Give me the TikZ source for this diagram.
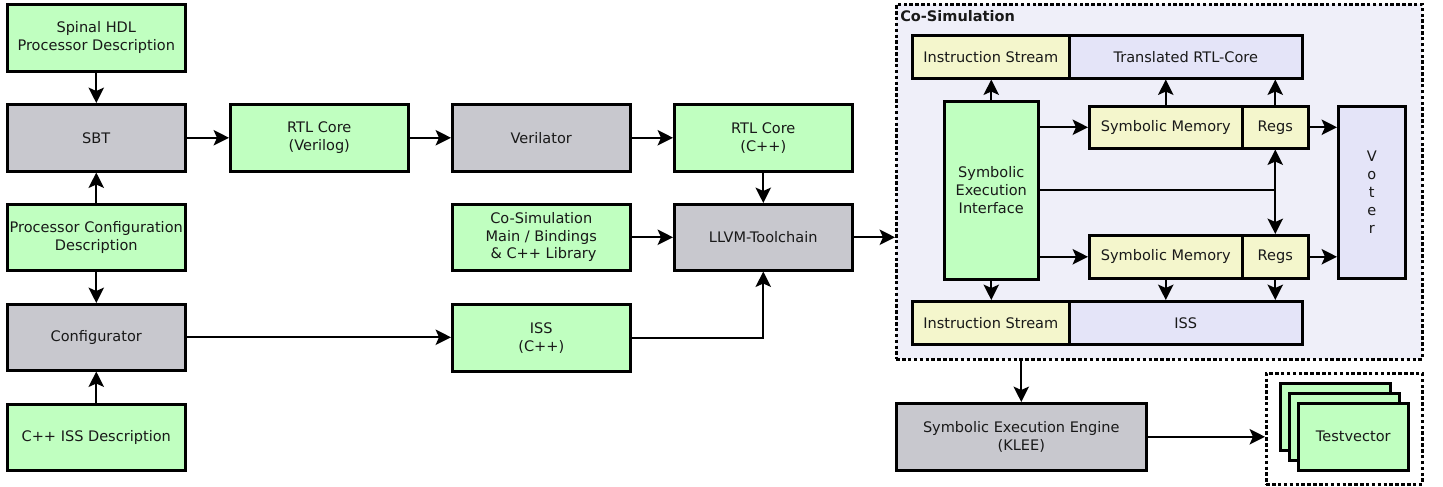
\documentclass[tikz,border=0pt]{standalone}
\usepackage{fontspec}
\setmainfont{DejaVu Sans}
\usetikzlibrary{arrows.meta,calc}

\definecolor{boxgreen}{RGB}{192,255,192}
\definecolor{boxgray}{RGB}{200,200,206}
\definecolor{boxyellow}{RGB}{244,246,204}
\definecolor{boxlav}{RGB}{228,228,248}
\definecolor{cosimbg}{RGB}{239,239,249}
\definecolor{ink}{RGB}{25,25,25}

\begin{document}
\begin{tikzpicture}[x=0.75pt,y=-0.75pt,
  every node/.style={font=\fontsize{10.9pt}{13.2pt}\selectfont, text=ink},
  rect/.style n args={4}{anchor=north west, at={(#1,#2)},
    minimum width={(#3-#1)*0.75pt}, minimum height={(#4-#2)*0.75pt},
    inner sep=0pt, align=center, draw=black, line width=1.9pt},
  green/.style={fill=boxgreen},
  gray/.style={fill=boxgray},
  yellow/.style={fill=boxyellow},
  lav/.style={fill=boxlav},
  frame/.style={dash pattern=on 2.6pt off 1.8pt},
  arr/.style={draw=black, line width=1.8pt, -{Stealth[length=11.5pt,width=11.5pt,inset=2.5pt]}},
  line/.style={draw=black, line width=1.8pt}]

\useasboundingbox (0,0) rectangle (1443,486);

% left column
\node[rect={6}{3}{184}{70}, green] (hdl) {Spinal HDL\\Processor Description};
\node[rect={6}{103}{184}{170}, gray] (sbt) {SBT};
\node[rect={6}{203}{184}{269}, green] (pcd) {Processor Configuration\\Description};
\node[rect={6}{303}{184}{369}, gray] (cfg) {Configurator};
\node[rect={6}{403}{184}{469}, green] (cppiss) {C++ ISS Description};

% tool flow
\node[rect={229}{103}{407}{170}, green] (rtlv) {RTL Core\\(Verilog)};
\node[rect={451}{103}{629}{170}, gray] (ver) {Verilator};
\node[rect={673}{103}{851}{170}, green] (rtlc) {RTL Core\\(C++)};
\node[rect={451}{203}{629}{269}, green] (csm) {Co-Simulation\\Main / Bindings\\\ \& C++ Library};
\node[rect={673}{203}{851}{269}, gray] (llvm) {LLVM-Toolchain};
\node[rect={451}{303}{629}{370}, green] (iss) {ISS\\(C++)};

% co-simulation container
\node[rect={895}{3}{1421}{358}, frame, fill=cosimbg] (cosim) {};
\node[anchor=west, inner sep=0pt, font=\fontsize{10.9pt}{13.2pt}\selectfont\bfseries] (cosimlabel) at (900,16) {Co-Simulation};

\node[rect={911}{34}{1068}{77}, yellow] (ist) {Instruction Stream};
\node[rect={1068}{34}{1301}{77}, lav] (trtl) {Translated RTL-Core};
\node[rect={943}{100}{1037}{278}, green, font=\fontsize{10.9pt}{13.5pt}\selectfont] (sei) {Symbolic\\Execution\\Interface};
\node[rect={1088}{105}{1241}{147}, yellow] (smt) {Symbolic Memory};
\node[rect={1241}{105}{1307}{147}, yellow] (rgt) {Regs};
\node[rect={1337}{105}{1404}{277}, lav, font=\fontsize{10.9pt}{13.5pt}\selectfont] (voter) {V\\o\\t\\e\\r};
\node[rect={1088}{234}{1241}{277}, yellow] (smb) {Symbolic Memory};
\node[rect={1241}{234}{1307}{277}, yellow] (rgb) {Regs};
\node[rect={911}{300}{1068}{343}, yellow] (isb) {Instruction Stream};
\node[rect={1068}{300}{1301}{343}, lav] (issb) {ISS};

% symbolic execution and test vectors
\node[rect={895}{402}{1145}{469}, gray] (klee) {Symbolic Execution Engine\\(KLEE)};
\node[rect={1265}{372}{1421}{483}, frame] (tvframe) {};
\node[rect={1279}{382}{1389}{449}, green] (tv1) {};
\node[rect={1288}{392}{1398}{459}, green] (tv2) {};
\node[rect={1297}{402}{1407}{469}, green] (tv3) {Testvector};

% connectors: left column and tool flow
\draw[arr] (hdl) -- (sbt);
\draw[arr] (pcd) -- (sbt);
\draw[arr] (pcd) -- (cfg);
\draw[arr] (cppiss) -- (cfg);
\draw[arr] (sbt) -- (rtlv);
\draw[arr] (rtlv) -- (ver);
\draw[arr] (ver) -- (rtlc);
\draw[arr] (rtlc) -- (llvm);
\draw[arr] (csm) -- (llvm);
\draw[arr] (cfg.east) -- (cfg.east -| iss.west);
\draw[arr] (iss.east) -| (llvm.south);
\draw[arr] (llvm.east) -- (llvm.east -| cosim.west);
\draw[arr] (cosim.south -| klee.north) -- (klee.north);
\draw[arr] (klee.east) -- (klee.east -| tvframe.west);

% connectors inside the co-simulation
\draw[arr] (sei.north) -- (sei.north |- ist.south);
\draw[arr] (smt.north) -- (smt.north |- trtl.south);
\draw[arr] (rgt.north) -- (rgt.north |- trtl.south);
\draw[arr] (sei.east |- smt.west) -- (smt.west);
\draw[arr] (rgt.east) -- (rgt.east -| voter.west);
\coordinate (junc) at (sei.east -| rgt.south);
\draw[line] (sei.east) -- (junc);
\draw[arr] (junc) -- (rgt.south);
\draw[arr] (junc) -- (rgb.north);
\draw[arr] (sei.east |- smb.west) -- (smb.west);
\draw[arr] (rgb.east) -- (rgb.east -| voter.west);
\draw[arr] (sei.south) -- (sei.south |- isb.north);
\draw[arr] (smb.south) -- (smb.south |- issb.north);
\draw[arr] (rgb.south) -- (rgb.south |- issb.north);
\end{tikzpicture}
\end{document}
